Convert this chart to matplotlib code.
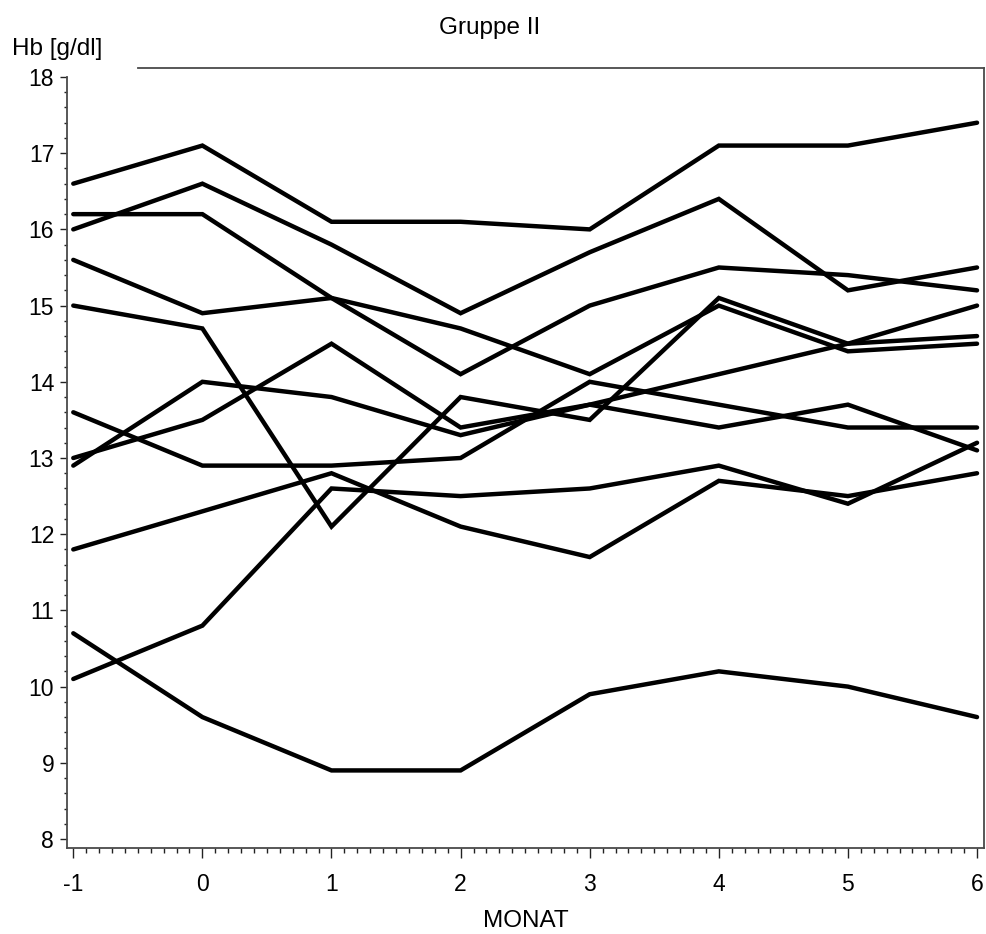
import matplotlib.pyplot as plt
from matplotlib.ticker import MultipleLocator

plt.rcParams['font.family'] = ['Liberation Sans', 'DejaVu Sans']

# Months on the x axis
monat = [-1, 0, 1, 2, 3, 4, 5, 6]

# Hb values per patient
pat1 = [16.6, 17.1, 16.1, 16.1, 16.0, 17.1, 17.1, 17.4]
pat2 = [16.0, 16.6, 15.8, 14.9, 15.7, 16.4, 15.2, 15.5]
pat3 = [16.2, 16.2, 15.1, 14.1, 15.0, 15.5, 15.4, 15.2]
pat4 = [15.6, 14.9, 15.1, 14.7, 14.1, 15.0, 14.4, 14.5]
pat5 = [15.0, 14.7, 12.1, 13.8, 13.5, 15.1, 14.5, 14.6]
pat6 = [13.6, 12.9, 12.9, 13.0, 14.0, 13.7, 13.4, 13.4]
pat7 = [13.0, 13.5, 14.5, 13.4, 13.7, 14.1, 14.5, 15.0]
pat8 = [12.9, 14.0, 13.8, 13.3, 13.7, 13.4, 13.7, 13.1]
pat9 = [11.8, 12.3, 12.8, 12.1, 11.7, 12.7, 12.5, 12.8]
pat10 = [10.1, 10.8, 12.6, 12.5, 12.6, 12.9, 12.4, 13.2]
pat11 = [10.7, 9.6, 8.9, 8.9, 9.9, 10.2, 10.0, 9.6]

patients = [pat1, pat2, pat3, pat4, pat5, pat6, pat7, pat8, pat9, pat10, pat11]

W, H = 987, 934
fig = plt.figure(figsize=(W / 100, H / 100), dpi=100)

# axes box in pixel coordinates of the picture
left, right, top, bottom = 66.7, 984, 68.3, 848
ax = fig.add_axes([left / W, 1 - bottom / H, (right - left) / W, (bottom - top) / H])

for values in patients:
    ax.plot(monat, values, color='black', linewidth=3.2, solid_joinstyle='miter',
            solid_capstyle='round')

ax.set_xlim(-1.051, 6.054)
ax.set_ylim(7.882, 18.114)

ax.set_xticks(monat)
ax.set_xticklabels(['-1', '0', '1', '2', '3', '4', '5', '6'])
ax.set_yticks(range(8, 19))
ax.xaxis.set_minor_locator(MultipleLocator(0.1))
ax.yaxis.set_minor_locator(MultipleLocator(0.2))

spine_col = '#4a4a4a'
for side in ['left', 'right', 'bottom']:
    ax.spines[side].set_color(spine_col)
    ax.spines[side].set_linewidth(1.3)
ax.spines['left'].set_bounds(7.882, 18)
ax.spines['top'].set_visible(False)
# top border starts right of the y label
ax.plot([(138 - left) / (right - left), 1], [1, 1], transform=ax.transAxes,
        color=spine_col, linewidth=1.3, clip_on=False)

ax.tick_params(axis='x', which='major', direction='out', length=7, width=1,
               labelsize=16.5, pad=11, color='#222222')
ax.tick_params(axis='x', which='minor', direction='out', length=3.5, width=1,
               color='#222222')
ax.tick_params(axis='y', which='major', direction='out', length=5, width=1,
               labelsize=16.5, pad=4, color='#222222')
ax.tick_params(axis='y', which='minor', direction='out', length=2.2, width=1,
               color='#222222')

ax.set_xlabel('MONAT', fontsize=17.5, labelpad=10)

fig.text(490 / W, 1 - 28 / H, 'Gruppe II', fontsize=17.5, ha='center', va='center')
fig.text(12 / W, 1 - 49 / H, 'Hb [g/dl]', fontsize=17.5, ha='left', va='center')

plt.savefig('out.png', dpi=100)
